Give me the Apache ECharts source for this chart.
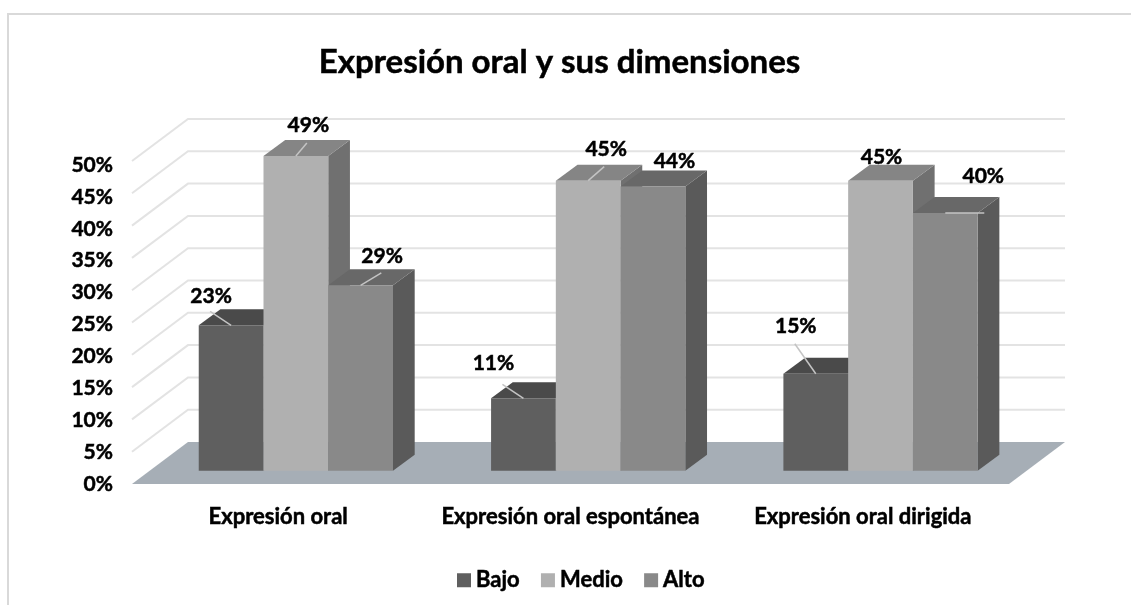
<!DOCTYPE html>
<html>
<head>
<meta charset="utf-8">
<title>Expresión oral y sus dimensiones</title>
<style>
  html, body { margin: 0; padding: 0; background: #fff; }
  #chart { width: 1131px; height: 605px; }
</style>
<script src="https://cdn.jsdelivr.net/npm/echarts@6/dist/echarts.min.js"></script>
</head>
<body>
<div id="chart"></div>
<script>
const titleText = 'Expresión oral y sus dimensiones'
const categories = ['Expresión oral', 'Expresión oral espontánea', 'Expresión oral dirigida']
const levels = ['Bajo', 'Medio', 'Alto']
// top of each bar, the chart labels round them
const bajo = [22.5, 11.2, 15]
const medio = [48.7, 44.9, 44.9]
const alto = [28.7, 44, 39.9]
const yTicks = [0, 5, 10, 15, 20, 25, 30, 35, 40, 45, 50]

// fake 3d: pixel shifts from the front plane of the floor
const WALL = [56, -42]
const BAR_FRONT = [17.7, -13.3]
const BAR_DEPTH = [21.7, -16]
const BAR_SHARE = 0.2215
const FONT = 'Lato, Carlito, sans-serif'
// lato bold is lighter than the picture's type, a thin outline thickens it
const boldText = { color: '#000', fontWeight: 'bold', fontFamily: FONT, textBorderColor: '#000', textBorderWidth: 0.5 }

const faces = [
  { front: '#5f5f5f', top: '#4a4a4a', side: '#474747' },
  { front: '#b0b0b0', top: '#858585', side: '#707070' },
  { front: '#898989', top: '#686868', side: '#5a5a5a' }
]
// per bar: label centre and leader end, relative to the middle of the bar top edge
const labelSpots = [
  [{ label: [-20, -29], leader: [-21, -14] }, { label: [-30, -35], leader: [-21, -14] }, { label: [-20, -48], leader: [-21, -30] }],
  [{ label: [12.5, -31], leader: [11, -13] }, { label: [18, -31], leader: [16, -14] }, { label: [1, -23] }],
  [{ label: [21.5, -29], leader: [20.7, -12.5] }, { label: [21.5, -25] }, { label: [38, -36.5], leader: [39, 0] }]
]

const shift = (p, d) => [p[0] + d[0], p[1] + d[1]]
const poly = (points, fill) => ({ type: 'polygon', shape: { points }, style: { fill } })

function renderFloor(params, api) {
  const a = api.coord([0, 0])
  const band = api.size([1, 0])[0]
  const fl = [a[0] - band / 2, a[1]]
  const fr = [fl[0] + band * categories.length, a[1]]
  return poly([fl, fr, shift(fr, WALL), shift(fl, WALL)], '#a6aeb6')
}

function renderGridLine(params, api) {
  const a = api.coord([0, api.value(0)])
  const band = api.size([1, 0])[0]
  const fl = [a[0] - band / 2, a[1]]
  const bl = shift(fl, WALL)
  const br = [bl[0] + band * categories.length, bl[1]]
  return {
    type: 'polyline',
    shape: { points: [fl, bl, br] },
    style: { fill: null, stroke: '#e3e3e3', lineWidth: 2 }
  }
}

function renderBar(levelIndex) {
  return (params, api) => {
    const cat = api.value(0)
    const value = api.value(1)
    const w = api.size([1, 0])[0] * BAR_SHARE
    const top = shift(api.coord([cat, value]), BAR_FRONT)
    const base = shift(api.coord([cat, 0]), BAR_FRONT)
    const x = top[0] + (levelIndex - 1.5) * w
    const tl = [x, top[1]]
    const tr = [x + w, top[1]]
    const bl = [x, base[1]]
    const br = [x + w, base[1]]
    const c = faces[levelIndex]
    const mid = [x + w / 2, top[1]]
    const spot = labelSpots[levelIndex][cat]
    const children = [
      poly([tr, shift(tr, BAR_DEPTH), shift(br, BAR_DEPTH), br], c.side),
      poly([tl, shift(tl, BAR_DEPTH), shift(tr, BAR_DEPTH), tr], c.top),
      poly([tl, tr, br, bl], c.front)
    ]
    if (spot.leader) {
      children.push({
        type: 'line',
        shape: { x1: mid[0], y1: mid[1], x2: mid[0] + spot.leader[0], y2: mid[1] + spot.leader[1] },
        style: { stroke: '#c4c4c4', lineWidth: 1.5 }
      })
    }
    children.push({
      type: 'text',
      z2: 10,
      style: {
        text: Math.round(value) + '%',
        x: mid[0] + spot.label[0],
        y: mid[1] + spot.label[1],
        align: 'center',
        verticalAlign: 'middle',
        font: 'bold 21px ' + FONT,
        fill: '#000',
        stroke: '#000',
        lineWidth: 0.5
      }
    })
    return { type: 'group', children }
  }
}

const chart = echarts.init(document.getElementById('chart'), null, { renderer: 'canvas' })

chart.setOption({
  animation: false,
  backgroundColor: '#fff',
  textStyle: { fontFamily: FONT },
  title: {
    text: titleText,
    left: 554.5,
    top: 41,
    textAlign: 'center',
    textStyle: { ...boldText, fontSize: 33 }
  },
  legend: {
    data: levels,
    left: 452,
    top: 564,
    icon: 'rect',
    itemWidth: 14,
    itemHeight: 14,
    itemGap: 21,
    textStyle: { ...boldText, fontSize: 22 }
  },
  graphic: [{
    type: 'polyline',
    silent: true,
    shape: { points: [[8, 605], [8, 14], [1131, 14]] },
    style: { fill: null, stroke: '#d9d9d9', lineWidth: 2 }
  }],
  // first grid carries the marks, the second only the printed percent scale,
  // which in the picture runs a little tighter than the bars
  grid: [
    { left: 132, top: 161, width: 877, height: 323 },
    { left: 132, top: 165, width: 877, height: 319 }
  ],
  xAxis: [
    {
      type: 'category',
      gridIndex: 0,
      data: categories,
      axisLine: { show: false },
      axisTick: { show: false },
      axisLabel: { ...boldText, fontSize: 22, margin: 22, interval: 0 }
    },
    { type: 'value', gridIndex: 1, show: false }
  ],
  yAxis: [
    { type: 'value', gridIndex: 0, min: 0, max: 50, interval: 5, show: false },
    {
      type: 'value',
      gridIndex: 1,
      min: 0,
      max: 50,
      interval: 5,
      axisLine: { show: false },
      axisTick: { show: false },
      splitLine: { show: false },
      axisLabel: { ...boldText, fontSize: 21, margin: 19, formatter: '{value}%' }
    }
  ],
  series: [
    { type: 'custom', name: 'piso', silent: true, data: [[0]], renderItem: renderFloor, z: 1 },
    { type: 'custom', name: 'rejilla', silent: true, data: yTicks.filter((t) => t > 0).map((t) => [t]), renderItem: renderGridLine, z: 1 },
    ...[bajo, medio, alto].map((values, i) => ({
      type: 'custom',
      name: levels[i],
      itemStyle: { color: faces[i].front },
      data: values.map((v, c) => [c, v]),
      encode: { x: 0, y: 1 },
      renderItem: renderBar(i),
      z: 2 + i
    }))
  ]
})
</script>
</body>
</html>
